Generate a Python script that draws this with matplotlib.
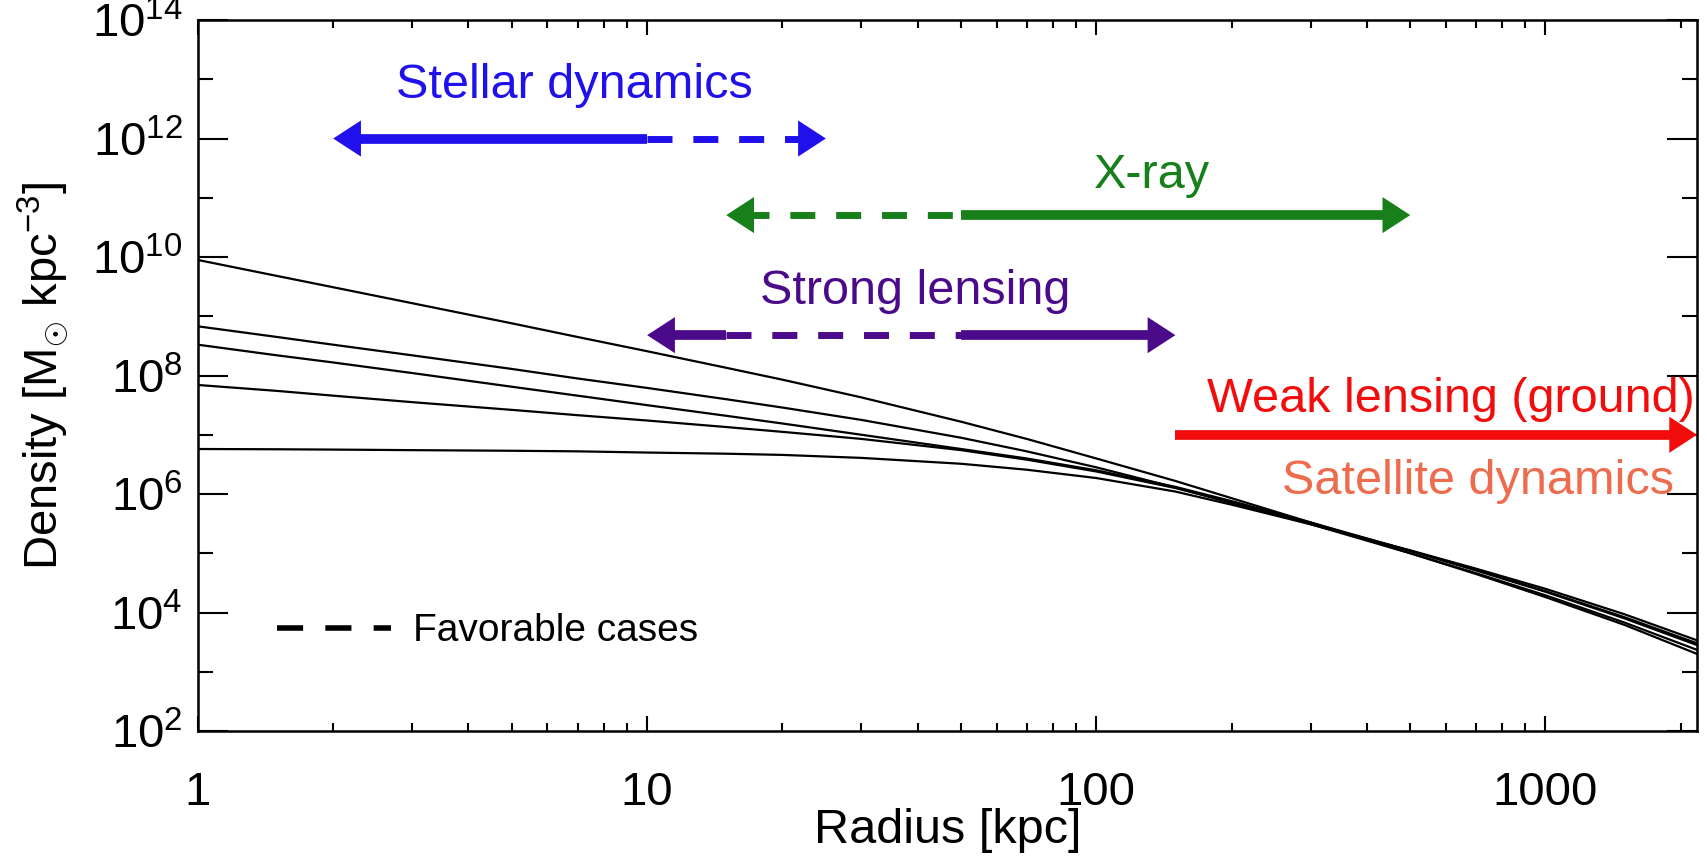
import matplotlib
matplotlib.use("Agg")
import matplotlib.pyplot as plt
import matplotlib.ticker as ticker
from matplotlib.lines import Line2D

plt.rcParams["font.family"] = ["Liberation Sans", "DejaVu Sans"]
plt.rcParams["mathtext.fontset"] = "custom"
plt.rcParams["mathtext.rm"] = "Liberation Sans"
plt.rcParams["mathtext.it"] = "Liberation Sans:italic"

# density profiles (kpc, Msun kpc^-3)
radius = [1, 1.5, 2, 3, 5, 7, 10, 15, 20, 30, 50, 70, 100, 150, 200, 300, 500, 700,
          1000, 1500, 2175]
prof_a = [8.91e9, 4.79e9, 3.09e9, 1.66e9, 7.59e8, 4.47e8, 2.57e8, 1.35e8, 8.51e7,
          4.27e7, 1.66e7, 8.51e6, 3.98e6, 1.66e6, 8.51e5, 3.31e5, 1.00e5, 4.47e4,
          1.82e4, 6.17e3, 2.00e3]
prof_b = [6.76e8, 4.47e8, 3.31e8, 2.19e8, 1.29e8, 8.91e7, 6.17e7, 3.98e7, 2.88e7,
          1.78e7, 8.91e6, 5.25e6, 2.82e6, 1.29e6, 7.08e5, 3.09e5, 1.00e5, 4.62e4,
          1.95e4, 6.76e3, 2.34e3]
prof_c = [3.31e8, 2.19e8, 1.66e8, 1.10e8, 6.46e7, 4.57e7, 3.16e7, 2.09e7, 1.55e7,
          1.00e7, 5.75e6, 3.98e6, 2.51e6, 1.32e6, 7.59e5, 3.31e5, 1.10e5, 5.13e4,
          2.24e4, 7.94e3, 2.82e3]
prof_d = [6.92e7, 5.50e7, 4.57e7, 3.55e7, 2.63e7, 2.14e7, 1.74e7, 1.35e7, 1.12e7,
          8.51e6, 5.50e6, 3.80e6, 2.40e6, 1.26e6, 7.24e5, 3.24e5, 1.10e5, 5.25e4,
          2.29e4, 8.32e3, 3.02e3]
prof_e = [5.75e6, 5.69e6, 5.62e6, 5.50e6, 5.37e6, 5.25e6, 5.01e6, 4.79e6, 4.57e6,
          4.07e6, 3.24e6, 2.57e6, 1.86e6, 1.10e6, 6.61e5, 3.09e5, 1.12e5, 5.50e4,
          2.51e4, 9.33e3, 3.39e3]
profiles = [prof_a, prof_b, prof_c, prof_d, prof_e]

# radial ranges probed by each method
probe_names = ["Stellar dynamics", "X-ray", "Strong lensing", "Weak lensing (ground)"]
probe_colors = ["#1F10EC", "#18801A", "#4A0A8A", "#F20C0C"]
probe_levels = [1.0e12, 5.1e10, 4.8e8, 1.0e7]
probe_solid = [[(2, 10)], [(50, 500)], [(10, 15), (50, 150)], [(150, 2175)]]
probe_dashed = [[(10, 25)], [(15, 50)], [(15, 50)], []]
probe_left_tip = [2, 15, 10, None]
probe_right_tip = [25, 500, 150, 2175]

fig = plt.figure(figsize=(17.08, 8.59), dpi=100)
ax = fig.add_axes([0.1159, 0.149, 0.8777, 0.8277])

for p in profiles:
    ax.plot(radius, p, color="k", lw=1.6)

shrink = 10 ** 0.04
for i in range(len(probe_names)):
    c = probe_colors[i]
    y = probe_levels[i]
    lt = probe_left_tip[i]
    rt = probe_right_tip[i]
    segs = [(a, b, "-") for a, b in probe_solid[i]] + [(a, b, "--") for a, b in probe_dashed[i]]
    for a, b, ls in segs:
        if lt is not None and a == lt:
            a = a * shrink
        if b == rt:
            b = b / shrink
        if ls == "-":
            ax.plot([a, b], [y, y], color=c, lw=7, solid_capstyle="butt", clip_on=False)
        else:
            ax.plot([a, b], [y, y], color=c, lw=5, ls=(0, (3.6, 3.0)),
                    dash_capstyle="butt", clip_on=False)
    head = dict(arrowstyle="-|>,head_length=20,head_width=13", color=c, lw=0,
                shrinkA=0, shrinkB=0, mutation_scale=1)
    if lt is not None:
        ax.annotate("", xy=(lt, y), xytext=(lt * 1.4, y), arrowprops=head,
                    annotation_clip=False)
    ax.annotate("", xy=(rt, y), xytext=(rt / 1.4, y), arrowprops=head,
                annotation_clip=False)

ax.text(6.9, 7.8e12, "Stellar dynamics", color=probe_colors[0], fontsize=35,
        ha="center", va="center")
ax.text(133, 2.4e11, "X-ray", color=probe_colors[1], fontsize=35,
        ha="center", va="center")
ax.text(39.5, 2.6e9, "Strong lensing", color=probe_colors[2], fontsize=35,
        ha="center", va="center")
ax.text(2148, 3.9e7, "Weak lensing (ground)", color=probe_colors[3], fontsize=35,
        ha="right", va="center")
ax.text(1928, 1.6e6, "Satellite dynamics", color="#EF6B4D", fontsize=35,
        ha="right", va="center")

h = Line2D([], [], color="k", lw=4, ls=(0, (4.7, 4.0)))
ax.legend([h], ["Favorable cases"], loc="center left", bbox_to_anchor=(0.053, 0.14),
          frameon=False, fontsize=28, handlelength=2.93, handletextpad=0.56,
          borderpad=0, borderaxespad=0)

ax.set_xscale("log")
ax.set_yscale("log")
ax.set_xlim(1, 2175)
ax.set_ylim(1e2, 1e14)

ax.xaxis.set_major_locator(ticker.FixedLocator([1, 10, 100, 1000]))
ax.xaxis.set_minor_locator(ticker.LogLocator(base=10, subs=range(2, 10)))
ax.xaxis.set_major_formatter(ticker.FormatStrFormatter("%d"))
ax.xaxis.set_minor_formatter(ticker.NullFormatter())
ax.yaxis.set_major_locator(ticker.FixedLocator([1e2, 1e4, 1e6, 1e8, 1e10, 1e12, 1e14]))
ax.yaxis.set_minor_locator(ticker.FixedLocator([1e3, 1e5, 1e7, 1e9, 1e11, 1e13]))
ax.yaxis.set_major_formatter(ticker.LogFormatterSciNotation())
ax.yaxis.set_minor_formatter(ticker.NullFormatter())

ax.tick_params(which="both", direction="in", top=True, right=True, width=1.5)
ax.tick_params(axis="x", which="major", length=11, pad=29, labelsize=34)
ax.tick_params(axis="x", which="minor", length=5.5)
ax.tick_params(axis="y", which="major", length=21.5, pad=11, labelsize=34)
ax.tick_params(axis="y", which="minor", length=11)
for s in ax.spines.values():
    s.set_linewidth(1.8)

ax.set_xlabel("Radius [kpc]", fontsize=35)
ax.set_ylabel(r"Density [M$_{\odot}$ kpc$^{-3}$]", fontsize=34)
ax.xaxis.set_label_coords(0.5, -0.108)
ax.yaxis.set_label_coords(-0.085, 0.5)

fig.savefig("out.png", dpi=100)
